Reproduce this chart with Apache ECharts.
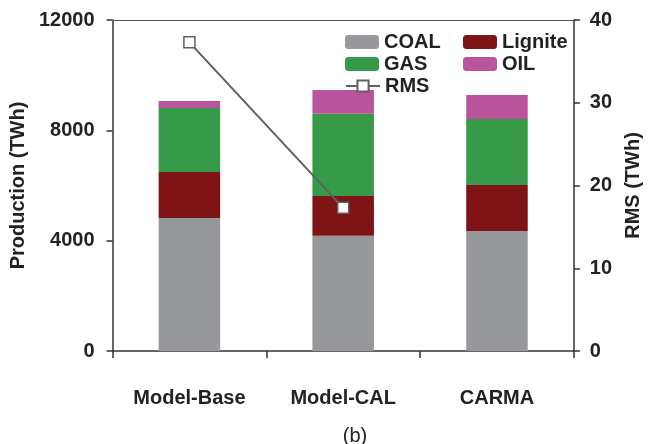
<!DOCTYPE html>
<html>
<head>
<meta charset="utf-8">
<script src="https://cdn.jsdelivr.net/npm/echarts@6/dist/echarts.min.js"></script>
<style>
html,body{margin:0;padding:0;background:#fff;}
#chart{width:651px;height:444px;}
</style>
</head>
<body>
<div id="chart"></div>
<script>
var categories = ['Model-Base', 'Model-CAL', 'CARMA'];
var coal = [4820, 4180, 4350];
var lignite = [1670, 1440, 1670];
var gas = [2320, 2985, 2390];
var oil = [250, 860, 870];
var rms = [37.3, 17.3, null];
var leftTicks = [0, 4000, 8000, 12000];
var rightTicks = [0, 10, 20, 30, 40];

var FONT = 'Liberation Sans, Arial, sans-serif';
var axisColor = '#333';
var chart = echarts.init(document.getElementById('chart'), null, {renderer: 'canvas'});

function legendAt(name, left, top, extra) {
  return Object.assign({
    data: [name], left: left, top: top, itemWidth: 34, itemHeight: 14, itemGap: 0,
    padding: 0, selectedMode: false,
    textStyle: {fontFamily: FONT, fontSize: 20, fontWeight: 'bold', color: '#222', padding: [0, 0, 0, 0]}
  }, extra || {});
}

var option = {
  animation: false,
  backgroundColor: '#fff',
  title: {
    text: '(b)', left: 350, top: 421, textAlign: 'center',
    textStyle: {fontFamily: FONT, fontSize: 20, fontWeight: 'normal', color: '#222'}
  },
  legend: [
    legendAt('COAL', 345, 32),
    legendAt('Lignite', 463, 32),
    legendAt('GAS', 345, 54),
    legendAt('OIL', 463, 54),
    legendAt('RMS', 345, 76)
  ],
  grid: {left: 110, right: 66, top: 20, bottom: 93, containLabel: false},
  xAxis: [{
    type: 'category', data: categories, position: 'bottom',
    axisLine: {onZero: false, lineStyle: {color: axisColor, width: 1.5}},
    axisTick: {show: true, alignWithLabel: false, length: 7, lineStyle: {color: axisColor, width: 1.5}},
    axisLabel: {margin: 37, fontFamily: FONT, fontSize: 20, fontWeight: 'bold', color: '#222'}
  }, {
    type: 'category', data: categories, position: 'top',
    axisLine: {show: true, onZero: false, lineStyle: {color: '#555', width: 1}},
    axisTick: {show: false}, axisLabel: {show: false}
  }],
  yAxis: [{
    type: 'value', min: 0, max: 12000, interval: 4000, position: 'left',
    name: 'Production (TWh)', nameLocation: 'middle', nameGap: 78, nameRotate: 90,
    nameTextStyle: {fontFamily: FONT, fontSize: 20, fontWeight: 'bold', color: '#222'},
    axisLine: {show: true, lineStyle: {color: axisColor, width: 1.5}},
    axisTick: {show: true, length: 6, lineStyle: {color: axisColor, width: 1.5}},
    splitLine: {show: false},
    axisLabel: {margin: 18, fontFamily: FONT, fontSize: 20, fontWeight: 'bold', color: '#222',
      formatter: function (v) { return leftTicks.indexOf(v) >= 0 ? String(v) : ''; }}
  }, {
    type: 'value', min: 0, max: 40, interval: 10, position: 'right',
    name: 'RMS (TWh)', nameLocation: 'middle', nameGap: 44, nameRotate: 90,
    nameTextStyle: {fontFamily: FONT, fontSize: 20, fontWeight: 'bold', color: '#222'},
    axisLine: {show: true, lineStyle: {color: axisColor, width: 1.5}},
    axisTick: {show: true, length: 6, lineStyle: {color: axisColor, width: 1.5}},
    splitLine: {show: false},
    axisLabel: {margin: 16, fontFamily: FONT, fontSize: 20, fontWeight: 'bold', color: '#222',
      formatter: function (v) { return rightTicks.indexOf(v) >= 0 ? String(v) : ''; }}
  }],
  series: [
    {name: 'COAL', type: 'bar', stack: 'p', data: coal, barWidth: '40%', itemStyle: {color: '#97989b'}},
    {name: 'Lignite', type: 'bar', stack: 'p', data: lignite, itemStyle: {color: '#7f1416'}},
    {name: 'GAS', type: 'bar', stack: 'p', data: gas, itemStyle: {color: '#369a48'}},
    {name: 'OIL', type: 'bar', stack: 'p', data: oil, itemStyle: {color: '#b9549d'}},
    {name: 'RMS', type: 'line', yAxisIndex: 1, data: rms, symbol: 'rect', symbolSize: 11,
      connectNulls: false, z: 5,
      lineStyle: {color: '#606060', width: 2},
      itemStyle: {color: '#fff', borderColor: '#606060', borderWidth: 1.5}}
  ]
};
chart.setOption(option);
</script>
</body>
</html>
